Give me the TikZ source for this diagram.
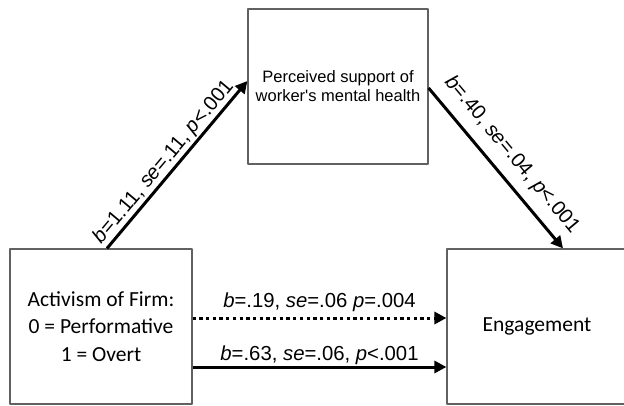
\documentclass[tikz,border=0pt]{standalone}
\usepackage{fontspec}
\setmainfont{Carlito}
\newfontfamily\arialfont{Liberation Sans}
\usetikzlibrary{arrows.meta,positioning}

\begin{document}
\begin{tikzpicture}[x=1pt, y=-1pt, line join=round,
  box/.style={draw=black!62, line width=1.2pt, minimum width=180pt,
    minimum height=155pt, align=center, inner sep=0pt},
  arr/.style={line width=3pt, -{Triangle[length=12pt,width=12pt]}},
  coef/.style={font=\arialfont\fontsize{20.3}{22}\selectfont}]
\useasboundingbox (0,0) rectangle (624,406);
% the three variables
\node[box, font=\arialfont\fontsize{16.5}{19}\selectfont] (med) at (338,86.5)
  {Perceived support of\\worker's mental health};
\node[box, minimum width=182pt, font=\fontsize{21.5}{27.5}\selectfont] (act) at (101,326.5)
  {Activism of Firm:\\0 = Performative\\1 = Overt};
\node[box] (eng) at (537,326.5) {\fontsize{21.5}{26}\selectfont Engagement};
% indirect path
\draw[arr] ([xshift=6pt]act.north) -- node[coef, sloped, above, pos=0.47, inner sep=1pt]
  {\textit{b}=1.11, \textit{se}=.11, \textit{p}<.001} ([yshift=5.5pt]med.west);
\draw[arr] ([yshift=-1.5pt]med.east) -- node[coef, sloped, above, inner sep=10pt]
  {\textit{b}=.40, \textit{se}=.04, \textit{p}<.001} ([xshift=26pt]eng.north);
% direct paths
\draw[arr, dash pattern=on 3.3pt off 3.4pt] ([yshift=8.5pt]act.east) -- node[coef, above, inner sep=5pt]
  {\textit{b}=.19, \textit{se}=.06 \textit{p}=.004} ([yshift=8.5pt]eng.west);
\draw[arr] ([yshift=-40.5pt]act.east) -- node[coef, above, inner sep=1pt]
  {\textit{b}=.63, \textit{se}=.06, \textit{p}<.001} ([yshift=-40.5pt]eng.west);
\end{tikzpicture}
\end{document}
